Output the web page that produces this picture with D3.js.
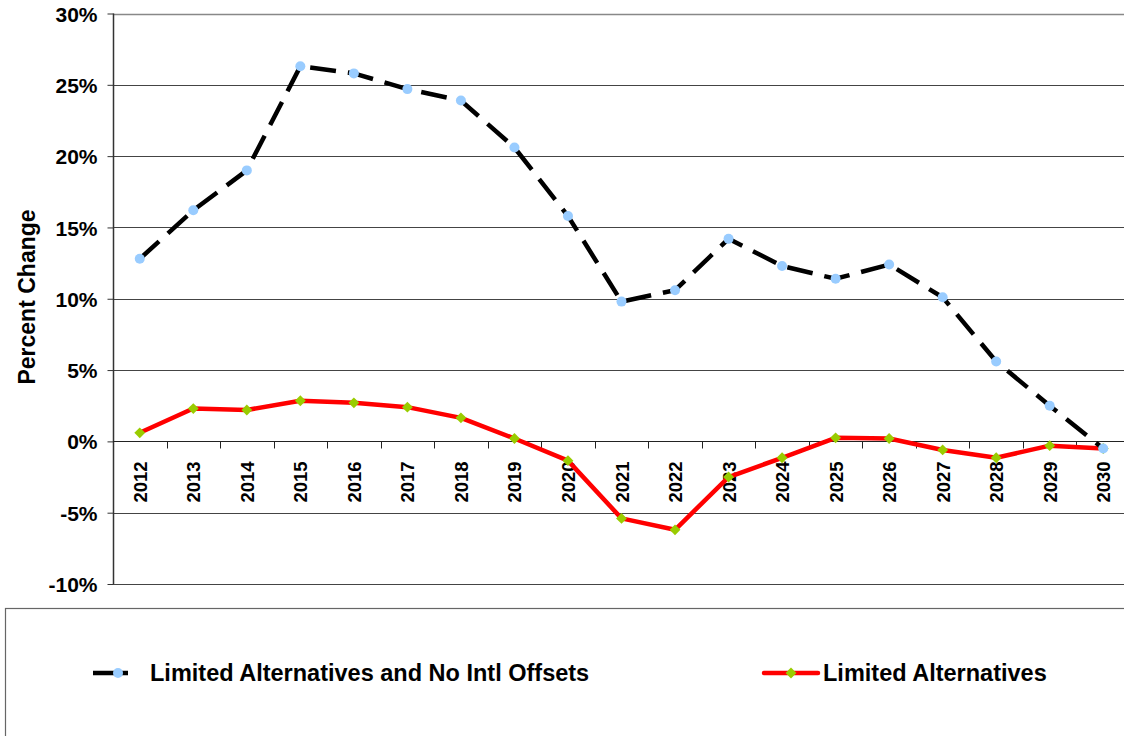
<!DOCTYPE html>
<html>
<head>
<meta charset="utf-8">
<script src="https://cdn.jsdelivr.net/npm/d3@7"></script>
<style>
  body { margin: 0; background: #fff; overflow: hidden; }
  text { font-family: Arial, "Liberation Sans", sans-serif; font-weight: bold; }
</style>
</head>
<body>
<div id="chart"></div>
<script>
var w = 1124;
var h = 736;

// data
const years = ["2012", "2013", "2014", "2015", "2016", "2017", "2018", "2019", "2020", "2021",
               "2022", "2023", "2024", "2025", "2026", "2027", "2028", "2029", "2030"];
const noOffsets = [12.8, 16.2, 19.0, 26.3, 25.8, 24.7, 23.9, 20.6, 15.8, 9.8,
                   10.6, 14.2, 12.3, 11.4, 12.4, 10.1, 5.6, 2.5, -0.5];
const limitedAlt = [0.6, 2.3, 2.2, 2.85, 2.7, 2.4, 1.65, 0.2, -1.35, -5.4,
                    -6.2, -2.5, -1.15, 0.25, 0.2, -0.6, -1.15, -0.3, -0.5];
const yTicks = [-10, -5, 0, 5, 10, 15, 20, 25, 30];
const seriesNames = ["Limited Alternatives and No Intl Offsets", "Limited Alternatives"];

const svg = d3.select("#chart").append("svg").attr("width", w).attr("height", h);

const x = d3.scaleBand().domain(years).range([113, 1130]);
const y = d3.scaleLinear().domain([-10, 30]).range([584, 13.5]);

// gridlines
svg.append("g")
    .selectAll("line")
    .data(yTicks)
    .enter()
    .append("line")
    .attr("x1", 113).attr("x2", w)
    .attr("y1", d => Math.round(y(d)) + 0.5).attr("y2", d => Math.round(y(d)) + 0.5)
    .attr("stroke", d => d === 30 ? "#888" : "#444")
    .attr("stroke-width", d => d === 30 ? 1.5 : 1);

// y axis
const yAxis = svg.append("g")
    .attr("transform", "translate(113.5,0)")
    .call(d3.axisLeft(y).tickValues(yTicks).tickSize(6).tickFormat(d => d + "%"));
yAxis.select(".domain").attr("stroke", "#333").attr("stroke-width", 1.5).attr("d", "M0," + y(30) + "V" + y(-10));
yAxis.selectAll(".tick line").attr("stroke", "#333");
yAxis.selectAll(".tick text")
    .attr("x", -16)
    .attr("dy", "0.36em")
    .style("font-size", "21px")
    .style("font-weight", "bold")
    .attr("fill", "#000");

// x axis at zero
const x0 = Math.round(y(0)) + 0.5;
svg.append("line")
    .attr("x1", 113).attr("x2", w)
    .attr("y1", x0).attr("y2", x0)
    .attr("stroke", "#222").attr("stroke-width", 1.2);
svg.append("g")
    .selectAll("line")
    .data(years.slice(1))
    .enter()
    .append("line")
    .attr("x1", d => Math.round(x(d)) + 0.5).attr("x2", d => Math.round(x(d)) + 0.5)
    .attr("y1", x0).attr("y2", x0 + 7)
    .attr("stroke", "#222");

svg.append("g")
    .selectAll("text")
    .data(years)
    .enter()
    .append("text")
    .attr("transform", d => "translate(" + (x(d) + x.bandwidth() / 2 + 7) + "," + (x0 + 61) + ") rotate(-90)")
    .attr("text-anchor", "start")
    .style("font-size", "18.5px")
    .text(d => d);

// y title
svg.append("text")
    .attr("transform", "translate(35,297) rotate(-90)")
    .attr("text-anchor", "middle")
    .style("font-size", "23px")
    .text("Percent Change");

const cx = (d, i) => x(years[i]) + x.bandwidth() / 2;
const line = d3.line().x(cx).y(d => y(d));

// red line
svg.append("path")
    .datum(limitedAlt)
    .attr("d", line)
    .attr("fill", "none")
    .attr("stroke", "#ff0000")
    .attr("stroke-width", 4.5)
    .attr("stroke-linejoin", "round");

// black dashed line
svg.append("path")
    .datum(noOffsets)
    .attr("d", line)
    .attr("fill", "none")
    .attr("stroke", "#000")
    .attr("stroke-width", 4.5)
    .attr("stroke-dasharray", "26,12");

const diamond = d3.symbol().type(d3.symbolDiamond2).size(75);

svg.append("g")
    .selectAll("path")
    .data(limitedAlt)
    .enter()
    .append("path")
    .attr("d", diamond)
    .attr("transform", (d, i) => "translate(" + cx(d, i) + "," + y(d) + ")")
    .attr("fill", "#99cc00");

svg.append("g")
    .selectAll("circle")
    .data(noOffsets)
    .enter()
    .append("circle")
    .attr("cx", cx)
    .attr("cy", d => y(d))
    .attr("r", 5)
    .attr("fill", "#99ccff");

// legend box
svg.append("rect")
    .attr("x", 5.5).attr("y", 608.5)
    .attr("width", 1140).attr("height", 200)
    .attr("fill", "none")
    .attr("stroke", "#666")
    .attr("stroke-width", 1.2);

const ly = 673;
svg.append("line")
    .attr("x1", 93).attr("x2", 128).attr("y1", ly).attr("y2", ly)
    .attr("stroke", "#000").attr("stroke-width", 4.5);
svg.append("circle").attr("cx", 118).attr("cy", ly).attr("r", 5).attr("fill", "#99ccff");
svg.append("text").attr("x", 150).attr("y", ly + 8).style("font-size", "23.5px").text(seriesNames[0]);

svg.append("line")
    .attr("x1", 764).attr("x2", 818).attr("y1", ly).attr("y2", ly)
    .attr("stroke", "#ff0000").attr("stroke-width", 4.5).attr("stroke-linecap", "round");
svg.append("path").attr("d", diamond).attr("transform", "translate(791," + ly + ")").attr("fill", "#99cc00");
svg.append("text").attr("x", 823).attr("y", ly + 8).style("font-size", "23.5px").text(seriesNames[1]);
</script>
</body>
</html>
